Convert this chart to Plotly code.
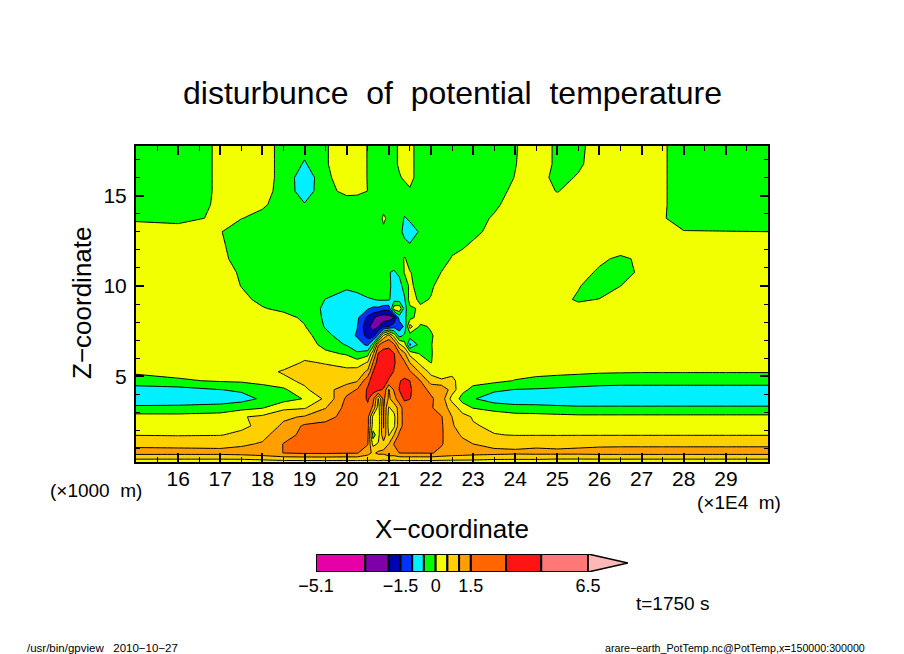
"""Potential temperature disturbance, gpview style contour plot."""

import numpy as np
import plotly.graph_objects as go

# grid, x in 1E4 m, z in km
x_grid = [15, 16, 17, 17.5, 18, 18.5, 19, 19.5, 20, 20.25,
          20.5, 20.625, 20.75, 20.875, 21, 21.125, 21.25, 21.375, 21.5, 21.75,
          22, 22.25, 22.5, 22.75, 23, 23.5, 24, 24.5, 25, 25.5,
          26, 26.5, 27, 27.5, 28, 29, 30]
z_grid = [0.25, 0.75, 1.25, 1.75, 2.25, 2.75, 3.25, 3.75, 4.25, 4.75,
          5.25, 5.75, 6.25, 6.75, 7.25, 7.75, 8.25, 8.75, 9.25, 10,
          10.75, 11.5, 12.25, 13, 13.75, 14.5, 15.25, 16, 16.75, 17.75]

# values, one row per height
r1775 = [-.25, -.25, .06, .15, .08, -.06, -.3, -.03, .2, .12,
         -.01, -.1, -.2, -.2, -.15, -.05, .03, .05, .05, -.08,
         -.2, -.25, -.25, -.25, -.25, -.2, -.02, .15, -.05, -.1,
         .2, .2, .2, .04, -.15, -.25, -.25]
r1675 = [-.25, -.25, .06, .15, .08, -.06, -.56, -.03, .2, .12,
         -.01, -.1, -.2, -.2, -.15, -.05, .03, .05, .05, -.08,
         -.2, -.25, -.25, -.25, -.25, -.2, -.01, .15, -.05, -.05,
         .15, .2, .2, .04, -.15, -.25, -.25]
r1600 = [-.25, -.25, .06, .15, .08, -.06, -.9, -.06, .15, .12,
         -.01, -.1, -.2, -.2, -.15, -.1, -.02, .03, .05, -.08,
         -.2, -.25, -.25, -.25, -.25, -.15, .01, .15, -.1, .03,
         .2, .2, .2, .04, -.15, -.25, -.25]
r1525 = [-.25, -.25, .06, .15, .08, -.08, -.85, -.06, .05, .05,
         -.002, -.08, -.15, -.2, -.2, -.2, -.15, -.08, -.02, -.15,
         -.2, -.25, -.25, -.25, -.25, -.1, .06, .2, -.02, .2,
         .2, .2, .2, .04, -.15, -.25, -.25]
r1450 = [-.22, -.2, .06, .15, .05, -.15, -.45, -.1, -.1, -.12,
         -.15, -.18, -.2, -.2, -.2, -.2, -.22, -.2, -.2, -.2,
         -.2, -.22, -.22, -.2, -.15, -.05, .12, .2, .2, .2,
         .2, .2, .2, .04, -.15, -.22, -.22]
r1375 = [-.05, -.1, .06, .01, -.1, -.2, -.25, -.25, -.25, -.25,
         -.25, -.22, -.2, .08, -.1, -.2, -.25, -.55, -.4, -.2,
         -.2, -.2, -.2, -.15, -.1, .03, .15, .2, .2, .2,
         .2, .2, .2, .04, -.2, -.2, -.18]
r1300 = [.15, .15, .02, -.2, -.25, -.3, -.3, -.3, -.3, -.3,
         -.3, -.28, -.25, -.1, -.15, -.2, -.3, -.7, -.8, -.42,
         -.2, -.15, -.12, -.1, -.08, .1, .2, .2, .2, .2,
         .2, .2, .2, .2, .02, .01, .001]
r1225 = [.2, .2, .05, -.15, -.25, -.3, -.3, -.3, -.3, -.3,
         -.3, -.3, -.25, -.2, -.2, -.2, -.2, -.3, -.45, -.2,
         -.15, -.1, -.1, -.04, .05, .15, .2, .2, .2, .2,
         .2, .15, .2, .2, .2, .2, .2]
r1150 = [.2, .2, .1, -.15, -.25, -.3, -.3, -.3, -.3, -.3,
         -.3, -.3, -.28, -.25, -.25, -.25, -.25, .05, -.2, -.2,
         -.15, -.15, .03, .1, .15, .2, .2, .2, .2, .2,
         .05, -.05, .05, .2, .2, .2, .2]
r1075 = [.25, .25, .2, -.06, -.25, -.3, -.3, -.3, -.3, -.28,
         -.22, -.2, -.2, -.2, -.48, -.55, -.4, .04, .02, -.15,
         -.2, .01, .1, .15, .2, .2, .2, .2, .2, .1,
         -.04, -.12, .06, .2, .2, .2, .2]
r1000 = [.25, .25, .22, -.01, -.2, -.25, -.3, -.3, -.42, -.3,
         -.2, -.15, -.12, -.12, -.35, -.75, -.7, -.3, .1, -.2,
         -.08, .2, .2, .2, .2, .2, .2, .2, .2, .02,
         -.15, -.001, .1, .2, .2, .2, .2]
r925 = [.25, .25, .25, .1, -.1, -.2, -.25, -.51, -.7, -.7,
        -.55, -.51, -.45, -.42, -.45, -.7, -.75, -.55, .2, -.1,
        .03, .2, .2, .2, .2, .2, .2, .2, .1, -.04,
        .01, .1, .2, .2, .2, .2, .2]
r875 = [.25, .25, .25, .2, .03, -.1, -.2, -.6, -.75, -.8,
        -.95, -1.1, -1.1, -1.3, -1.3, .3, .4, -.7, -.1, .08,
        .15, .2, .2, .2, .2, .2, .2, .2, .2, .1,
        .2, .2, .2, .2, .2, .2, .2]
r825 = [.25, .25, .25, .25, .2, .15, -.08, -.6, -.8, -.9,
        -1.6, -1.9, -2.4, -2.6, -2.5, -2, -.8, -.6, -.2, .3,
        .1, .2, .2, .2, .2, .2, .2, .2, .2, .2,
        .2, .2, .2, .2, .2, .2, .2]
r775 = [.25, .25, .25, .25, .25, .2, .03, -.55, -.85, -.98,
        -1.9, -2.3, -2, -1.6, -1.5, -1.2, -1.3, -.9, .7, -.1,
        .05, .2, .2, .2, .2, .2, .2, .2, .2, .2,
        .2, .2, .2, .2, .2, .2, .2]
r725 = [.25, .25, .25, .25, .25, .25, .2, -.35, -.8, -1.05,
        -1.7, -1.8, -.9, .6, 1.2, .3, -.7, -.4, -.25, -.25,
        -.05, .2, .2, .2, .2, .2, .2, .2, .2, .2,
        .2, .2, .2, .2, .2, .2, .2]
r675 = [.25, .25, .25, .25, .25, .25, .25, -.15, -.55, -.8,
        -1.1, -.3, 1.4, 2.6, 2.6, 1.8, .6, .2, -1.1, -.25,
        -.02, .2, .2, .2, .2, .2, .2, .2, .2, .2,
        .2, .2, .2, .2, .2, .2, .2]
r625 = [.25, .25, .25, .25, .25, .3, .35, .1, -.05, -.42,
        -.2, .9, 3.1, 3.4, 3.6, 3.1, 1.6, 1.1, .35, -.05,
        -.03, .2, .2, .2, .2, .2, .2, .2, .2, .2,
        .2, .2, .2, .2, .2, .2, .2]
r575 = [.2, .2, .2, .2, .25, .3, .55, .47, .3, .25,
        .55, 1.5, 3.9, 4.2, 4, 3.2, 2.2, 1.7, 1, .35,
        -.01, .15, .2, .2, .2, .2, .2, .2, .2, .2,
        .2, .2, .2, .2, .2, .2, .15]
r525 = [.1, .15, .25, .3, .35, .55, .7, .65, .65, .7,
        1.1, 3, 4.1, 4.3, 3.7, 2.9, 2.6, 2.2, 1.7, .9,
        .35, .3, .4, .25, .2, .2, .15, .12, .1, .08,
        .05, .04, .03, .03, .03, .03, .03]
r475 = [-.25, -.06, .05, .08, .15, .38, .6, .85, .8, .95,
        2.6, 3.6, 4, 3.9, 2.8, 2.2, 2.9, 3.3, 3, 1.5,
        .75, .55, .6, .3, .12, .12, -.02, -.1, -.15, -.2,
        -.25, -.28, -.28, -.28, -.28, -.28, -.28]
r425 = [-.7, -.7, -.51, -.42, -.2, -.1, .42, .8, 1.3, 1.6,
        3.2, 3.6, 3.4, 2.8, .95, 1.7, 3.05, 3.5, 3.2, 2,
        1.4, 1.45, .75, .1, -.1, -.4, -.52, -.55, -.6, -.65,
        -.7, -.72, -.72, -.72, -.72, -.72, -.72]
r375 = [-.8, -.8, -.75, -.7, -.42, -.2, .03, .6, 1.8, 1.9,
        3.2, 2, .45, 2, .9, 1.3, 2.4, 3.2, 3.05, 2.2,
        1.7, 1.3, .3, -.15, -.45, -.8, -.85, -.85, -.85, -.85,
        -.85, -.85, -.85, -.85, -.85, -.85, -.85]
r325 = [-.4, -.38, -.32, -.15, -.03, .38, .45, .98, 2, 2,
        2.7, 1.4, .25, 1.7, .45, .7, 1.2, 2.4, 2.1, 2.2,
        1.7, 1.2, .85, .2, -.02, -.15, -.3, -.32, -.38, -.42,
        -.42, -.42, -.42, -.42, -.42, -.42, -.42]
r275 = [.2, .18, .25, .46, .6, .9, 1.05, 1.3, 2.1, 2.2,
        2, .35, .2, 1.6, .3, .35, 1.3, 2, 2, 2.1,
        2, 1.6, 1, .7, .45, .25, .2, .18, .15, .12,
        .12, .12, .12, .12, .12, .12, .12]
r225 = [.35, .35, .38, .4, .62, 1.1, 1.75, 2, 2.1, 2.2,
        2, .3, .2, 1.6, .3, .4, 1.3, 2, 2, 2.1,
        2, 1.7, 1.05, .8, .55, .4, .35, .35, .35, .35,
        .35, .35, .35, .35, .35, .35, .35]
r175 = [.48, .46, .48, .6, .85, 1.3, 1.9, 2, 2, 2.1,
        1.9, -.25, .3, 1.4, .45, 1, 1.8, 2, 2, 2.1,
        2, 1.7, 1.15, .95, .8, .52, .48, .48, .48, .48,
        .48, .48, .48, .48, .48, .48, .48]
r125 = [.9, .88, .85, .92, 1.05, 1.55, 2, 2, 2, 2,
        1.6, .35, .55, .8, 1, 1.6, 1.9, 2, 2, 2.1,
        2, 1.6, 1.3, 1.1, 1, .85, .85, .9, .85, .9,
        .92, .93, .93, .93, .93, .93, .93]
r075 = [1.15, 1.15, 1.15, 1.2, 1.3, 1.52, 1.7, 1.7, 1.6, 1.6,
        1.2, .9, 1.1, 1.1, 1.3, 1.3, 1.52, 1.55, 1.55, 1.55,
        1.6, 1.4, 1.3, 1.25, 1.2, 1.15, 1.1, 1.12, 1.12, 1.12,
        1.15, 1.15, 1.15, 1.15, 1.15, 1.15, 1.15]
r025 = [.2, .2, .2, .2, .25, .3, .3, .3, .3, .3,
        .35, .4, .4, .35, .35, .3, .3, .3, .3, .3,
        .3, .3, .3, .3, .3, .25, .25, .25, .2, .2,
        .2, .2, .2, .2, .2, .2, .2]

levels = [-5.1, -3, -2, -1.5, -1, -0.5, 0, 0.5, 1, 1.5, 3, 4.5, 6.5]
band_colors = ["#e600a8", "#7d00a8", "#0000b4", "#0033ff", "#00f0ff", "#00ff00",
               "#f2ff00", "#ffd000", "#ffa000", "#ff6600", "#ff1414", "#ff7878",
               "#ffb8b8"]
cbar_ticks = [-5.1, -1.5, 0, 1.5, 6.5]
cbar_labels = ["\u22125.1", "\u22121.5", "0", "1.5", "6.5"]
x_ticks = [16, 17, 18, 19, 20, 21, 22, 23, 24, 25, 26, 27, 28, 29]
y_ticks = [5, 10, 15]

W, H = 904, 654
FONT = "Liberation Sans"


def px(x):
    return x / W


def py(y):
    return 1 - y / H


# the bands are unequal, so contour in level index space
rows = [r025, r075, r125, r175, r225, r275, r325, r375, r425, r475,
        r525, r575, r625, r675, r725, r775, r825, r875, r925, r1000,
        r1075, r1150, r1225, r1300, r1375, r1450, r1525, r1600, r1675, r1775]
z_index = np.interp(np.array(rows), levels, np.arange(len(levels)))

# stepped colorscale, index -1..13
n_steps = len(band_colors) + 1
colorscale = []
steps = [band_colors[0]] + band_colors
for i, c in enumerate(steps):
    colorscale.append([i / n_steps, c])
    colorscale.append([(i + 1) / n_steps, c])

fig = go.Figure()
fig.add_trace(go.Contour(
    x=x_grid, y=z_grid, z=z_index,
    zmin=-1, zmax=13,
    colorscale=colorscale,
    showscale=False,
    contours=dict(start=0, end=12, size=1, coloring="fill"),
    line=dict(color="black", width=1, smoothing=0),
    hoverinfo="skip",
))

# colour bar under the plot
fig.add_trace(go.Bar(
    x=np.diff(levels), base=levels[:-1], y=[0] * (len(levels) - 1),
    orientation="h", width=1,
    marker=dict(color=band_colors[:-1], line=dict(color="black", width=2)),
    xaxis="x2", yaxis="y2", hoverinfo="skip",
))
fig.add_trace(go.Scatter(
    x=[levels[-1], levels[-1] + 1.7, levels[-1], levels[-1]], y=[-0.5, 0, 0.5, -0.5],
    mode="lines", fill="toself", fillcolor=band_colors[-1],
    line=dict(color="black", width=1.5),
    xaxis="x2", yaxis="y2", hoverinfo="skip",
))

annotations = [
    dict(text="disturbunce  of  potential  temperature", x=px(452), y=py(93), size=32),
    dict(text="(\u00d71000  m)", x=px(96), y=py(490), size=19),
    dict(text="(\u00d71E4  m)", x=px(739), y=py(502), size=19),
    dict(text="X\u2212coordinate", x=px(452), y=py(529), size=26),
    dict(text="Z\u2212coordinate", x=px(82), y=py(303), size=26, textangle=-90),
    dict(text="t=1750 s", x=px(672), y=py(603), size=19),
    dict(text="/usr/bin/gpview   2010\u221210\u221227", x=px(102), y=py(648), size=11.5),
    dict(text="arare\u2212earth_PotTemp.nc@PotTemp,x=150000:300000", x=px(735), y=py(648), size=10.7),
]
fig.update_layout(
    width=W, height=H, autosize=False,
    margin=dict(l=0, r=0, t=0, b=0, autoexpand=False),
    paper_bgcolor="white", plot_bgcolor="white",
    showlegend=False,
    font=dict(family=FONT, color="black"),
    barmode="overlay",
    xaxis=dict(
        domain=[px(136), px(768)], range=[15, 30],
        tickmode="array", tickvals=x_ticks, ticks="inside", ticklen=9, tickwidth=2,
        tickcolor="black", showline=True, linecolor="black", linewidth=2, mirror="allticks",
        showgrid=False, zeroline=False, tickfont=dict(size=21), ticklabelstandoff=-3,
        minor=dict(dtick=0.5, ticks="inside", ticklen=5, tickwidth=1, tickcolor="black", showgrid=False),
    ),
    yaxis=dict(
        domain=[py(462), py(146)], range=[0.25, 17.75],
        tickmode="array", tickvals=y_ticks, ticks="inside", ticklen=8, tickwidth=2,
        tickcolor="black", showline=True, linecolor="black", linewidth=2, mirror="allticks",
        showgrid=False, zeroline=False, tickfont=dict(size=21), ticklabelstandoff=3,
        minor=dict(dtick=1, ticks="inside", ticklen=4, tickwidth=1, tickcolor="black", showgrid=False),
    ),
    xaxis2=dict(
        domain=[px(316), px(628)], range=[-5.1, 8.2], anchor="y2",
        tickmode="array", tickvals=cbar_ticks, ticktext=cbar_labels, ticks="",
        showline=False, showgrid=False, zeroline=False, tickfont=dict(size=18),
        ticklabelstandoff=1,
    ),
    yaxis2=dict(
        domain=[py(572), py(554)], range=[-0.5, 0.5], anchor="x2",
        showticklabels=False, ticks="", showline=False, showgrid=False, zeroline=False,
    ),
    annotations=[
        dict(xref="paper", yref="paper", x=a["x"], y=a["y"], text=a["text"],
             showarrow=False, xanchor="center", yanchor="middle",
             textangle=a.get("textangle", 0), font=dict(size=a["size"]))
        for a in annotations
    ],
)

fig.write_html("out.html", config={"displayModeBar": False},
               post_script="document.body.style.margin='0';")
